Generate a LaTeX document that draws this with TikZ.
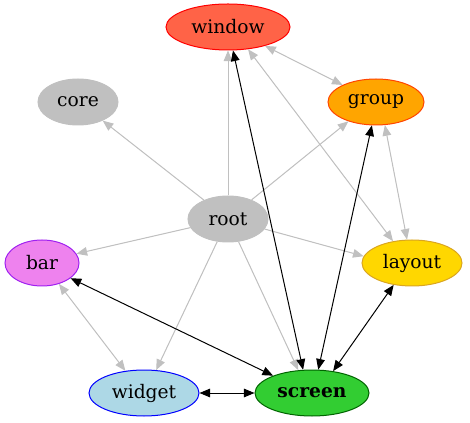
\documentclass[tikz,border=0pt]{standalone}
\usepackage{fontspec}
\setmainfont{DejaVu Serif}
\usetikzlibrary{shapes.geometric,arrows.meta}
\definecolor{silver}{HTML}{C0C0C0}
\definecolor{tomato}{HTML}{FF6347}
\definecolor{orange}{HTML}{FFA500}
\definecolor{orangered}{HTML}{FF4500}
\definecolor{violet}{HTML}{EE82EE}
\definecolor{xpurple}{HTML}{A020F0}
\definecolor{gold}{HTML}{FFD700}
\definecolor{goldenrod}{HTML}{DAA520}
\definecolor{lightblue}{HTML}{ADD8E6}
\definecolor{limegreen}{HTML}{32CD32}
\definecolor{darkgreen}{HTML}{006400}

\begin{document}
\begin{tikzpicture}[x=0.75pt, y=-0.75pt, >={Triangle[length=8pt,width=6.5pt]},
	main/.style = {draw, ellipse, inner sep=0pt, minimum height=34.5pt, line width=0.75pt, font=\fontsize{14}{16}\selectfont},
	soft/.style = {draw=silver, fill=silver, line width=0.75pt},
	hard/.style = {draw=black, line width=0.75pt}]
	\useasboundingbox (0,0) rectangle (470,423);
	\node[main, minimum width=93pt, fill=tomato, draw=red] (window) at (228,27) {window};
	\node[main, minimum width=60pt, fill=silver, draw=silver] (core) at (78,102) {core};
	\node[main, minimum width=72pt, fill=orange, draw=orangered] (group) at (376,102) {group};
	\node[main, minimum width=60pt, fill=silver, draw=silver] (root) at (228,219) {root};
	\node[main, minimum width=55.5pt, fill=violet, draw=xpurple] (bar) at (42,263) {bar};
	\node[main, minimum width=75pt, fill=gold, draw=goldenrod] (layout) at (412,263) {layout};
	\node[main, minimum width=82.5pt, fill=lightblue, draw=blue] (widget) at (144,393) {widget};
	\node[main, minimum width=85.5pt, fill=limegreen, draw=darkgreen] (screen) at (312,393) {\bfseries screen};
	% from root
	\draw[soft, ->] (root) -- (core.323);
	\draw[soft, ->] (root) -- (window.270);
	\draw[soft, ->] (root) -- (group.215);
	\draw[soft, ->] (root) -- (bar.15);
	\draw[soft, ->] (root) -- (layout.172);
	\draw[soft, ->] (root) -- (widget.62);
	\draw[soft, ->] (root) -- (screen.121);
	% grey pairs
	\draw[soft, <->] (window.333) -- (group.153);
	\draw[soft, <->] (window.312) -- (layout.131);
	\draw[soft, <->] (group.291) -- (layout.102);
	\draw[soft, <->] (bar.309) -- (widget.130);
	% black pairs
	\draw[hard, <->] (window.282) -- (screen.111);
	\draw[hard, <->] (group.260) -- (screen.75);
	\draw[hard, <->] (layout.230) -- (screen.46);
	\draw[hard, <->] (bar.332) -- (screen.156);
	\draw[hard, <->] (widget.0) -- (screen.180);
\end{tikzpicture}
\end{document}
